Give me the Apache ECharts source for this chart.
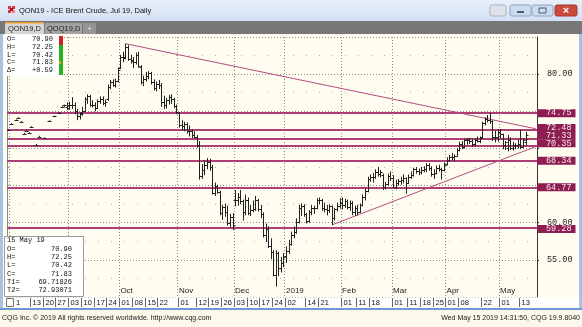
<!DOCTYPE html>
<html>
<head>
<meta charset="utf-8">
<script src="https://cdn.jsdelivr.net/npm/echarts@6/dist/echarts.min.js"></script>
<style>
  html, body { margin: 0; padding: 0; background: #fffcf0; }
  #chart { width: 582px; height: 327px; }
</style>
</head>
<body>
<div id="chart"></div>
<script>
// ---------------- DATA ----------------
// Trading days (day of month) per month
const daysJul18 = [31];
const daysAug18 = [1,2,3,6,7,8,9,10,13,14,15,16,17,20,21,22,23,24,27,28,29,30,31];
const daysSep18 = [3,4,5,6,7,10,11,12,13,14,17,18,19,20,21,24,25,26,27,28];
const daysOct18 = [1,2,3,4,5,8,9,10,11,12,15,16,17,18,19,22,23,24,25,26,29,30,31];
const daysNov18 = [1,2,5,6,7,8,9,12,13,14,15,16,19,20,21,22,23,26,27,28,29,30];
const daysDec18 = [3,4,5,6,7,10,11,12,13,14,17,18,19,20,21,24,26,27,28,31];
const daysJan19 = [2,3,4,7,8,9,10,11,14,15,16,17,18,21,22,23,24,25,28,29,30,31];
const daysFeb19 = [1,4,5,6,7,8,11,12,13,14,15,18,19,20,21,22,25,26,27,28];
const daysMar19 = [1,4,5,6,7,8,11,12,13,14,15,18,19,20,21,22,25,26,27,28,29];
const daysApr19 = [1,2,3,4,5,8,9,10,11,12,15,16,17,18,22,23,24,25,26,29,30];
const daysMay19 = [1,2,3,6,7,8,9,10,13,14,15,16,17,20,21];

// OHLC bars [open, high, low, close] per trading day (null = no trade)
const barsJul18 = [[72.5,72.6,72.4,72.5]];
const barsAug18 = [
  [73.3,73.4,73.2,73.3], null, [73.8,73.9,73.7,73.8], [74.1,74.2,74.0,74.1], [73.6,73.7,73.5,73.6],
  [72.0,72.1,71.9,72.0], [72.4,72.5,72.3,72.4], [72.1,72.2,72.0,72.1], [72.9,73.0,72.8,72.9], null,
  [70.5,70.6,70.4,70.5], [71.6,71.7,71.5,71.6], null, [71.4,71.5,71.3,71.4], null,
  [73.7,73.8,73.6,73.7], null, [74.3,74.4,74.2,74.3], null, [74.8,74.9,74.7,74.8],
  [75.6,75.7,75.5,75.6], [75.8,75.9,75.6,75.8], [75.6,76.2,75.2,75.9]
];
const barsSep18 = [
  [75.5,76.3,75.2,75.8], [75.8,76.9,75.3,75.9], [75.9,76.2,74.6,75.0], [75.0,75.3,73.8,74.3], [74.3,74.9,73.9,74.6],
  [74.8,75.6,74.4,75.1], [75.1,76.9,74.9,76.6], [76.6,77.3,76.0,77.0], [77.0,77.2,75.6,75.9], [75.9,76.5,75.5,75.8],
  [75.8,76.2,75.0,75.5], [75.5,76.6,75.3,76.4], [76.4,77.0,76.0,76.7], [76.7,77.0,75.8,76.1], [76.1,76.6,75.6,76.3],
  [76.6,78.6,76.4,78.3], [78.3,79.2,78.0,78.9], [78.9,79.3,78.3,78.6], [78.6,79.4,78.2,79.1], [79.1,80.9,78.9,80.6]
];
const barsOct18 = [
  [80.8,82.6,80.7,82.3], [82.3,83.0,81.6,82.2], [82.3,84.1,82.0,83.6], [83.6,83.9,81.8,82.1], [82.1,82.6,81.4,81.9],
  [81.8,82.3,80.8,81.6], [81.6,82.9,81.3,82.6], [82.6,83.0,80.9,81.1], [80.9,81.2,78.6,78.9], [78.9,79.8,78.4,79.3],
  [79.3,80.3,79.0,79.7], [79.7,80.4,79.3,80.2], [80.2,80.3,78.6,78.9], [78.9,79.3,77.8,78.2], [78.2,79.0,77.7,78.7],
  [78.7,79.2,78.0,78.6], [78.5,78.8,75.6,76.2], [76.2,77.1,75.3,75.8], [75.8,76.8,75.4,76.5], [76.5,77.2,75.9,76.9],
  [76.9,77.3,76.0,76.6], [76.6,76.8,75.4,75.7], [75.7,75.9,74.6,74.9]
];
const barsNov18 = [
  [74.8,74.9,72.8,73.2], [73.2,73.8,72.4,73.0], [73.0,73.6,72.3,73.3], [73.3,73.5,72.0,72.4], [72.4,73.1,71.6,72.3],
  [72.3,72.6,71.4,71.8], [71.8,72.3,71.3,71.6], [71.5,71.8,70.1,70.5], [70.5,71.0,65.8,66.3], [66.3,67.9,65.9,67.1],
  [67.1,68.4,66.4,67.8], [67.8,68.7,67.2,68.2], [68.2,68.6,67.0,67.5], [67.5,67.8,63.8,64.0], [64.0,65.4,63.6,64.9],
  [64.9,65.1,63.9,64.2], [64.1,64.3,61.0,61.3], [61.3,62.4,60.4,62.1], [62.1,62.6,60.8,61.4], [61.4,62.3,59.6,59.9],
  [59.9,61.2,59.4,60.8], [60.8,61.3,59.0,59.7]
];
const barsDec18 = [
  [63.0,64.4,62.2,63.0], [63.0,64.0,62.3,63.4], [63.4,64.4,62.5,62.9], [62.9,63.1,60.3,61.4], [61.4,63.8,61.0,63.0],
  [63.0,63.4,61.0,61.3], [61.3,62.4,60.9,61.7], [61.7,63.0,61.4,61.8], [61.8,63.6,61.6,63.0], [63.0,63.2,61.5,61.8],
  [61.8,62.4,60.6,61.2], [61.2,61.4,58.0,58.3], [58.3,59.9,57.4,59.2], [59.2,59.5,56.6,56.9], [56.9,57.9,55.1,56.0],
  [56.0,56.3,52.8,53.0], [53.0,56.3,51.4,55.9], [55.9,56.1,52.8,53.9], [53.9,55.4,53.3,54.6], [54.6,55.9,54.0,55.4]
];
const barsJan19 = [
  [55.5,56.8,54.6,56.2], [56.2,57.7,55.8,57.2], [57.2,58.8,56.9,58.4], [58.4,59.5,57.9,58.7], [58.7,60.6,58.5,60.1],
  [60.1,62.4,59.9,62.0], [62.0,62.6,60.9,62.3], [62.3,62.5,60.8,61.2], [61.2,61.3,59.9,60.2], [60.2,61.7,60.0,61.5],
  [61.5,62.4,61.0,62.0], [62.0,62.3,61.2,62.0], [62.0,63.3,61.8,63.0], [63.0,63.4,62.5,63.1], [63.1,63.2,61.6,62.0],
  [62.0,62.7,61.4,61.8], [61.8,62.4,61.0,61.7], [61.7,62.5,61.3,62.2], [62.2,62.3,59.7,60.6], [60.6,62.0,60.3,61.8],
  [61.8,62.7,61.5,62.3], [62.3,63.3,61.9,62.6]
];
const barsFeb19 = [
  [62.6,63.4,61.8,62.4], [62.4,63.2,62.0,62.9], [62.9,63.1,61.8,62.1], [62.1,63.0,61.6,62.7], [62.7,62.9,61.0,61.5],
  [61.5,62.3,60.9,62.0], [62.0,62.4,61.0,61.4], [61.4,62.6,61.3,62.4], [62.4,63.8,62.2,63.5], [63.5,64.6,63.0,64.3],
  [64.3,66.2,64.1,65.9], [65.9,66.5,65.5,66.2], [66.2,66.7,65.4,66.1], [66.1,67.2,65.9,66.8], [66.8,67.5,66.2,66.6],
  [66.6,67.1,66.1,66.8], [66.4,66.6,64.4,64.8], [64.8,65.5,64.5,65.2], [65.2,66.6,65.0,66.3], [66.3,66.9,65.6,66.0]
];
const barsMar19 = [
  [66.0,66.4,64.6,64.8], [64.8,65.8,64.5,65.4], [65.4,65.9,65.0,65.6], [65.6,66.2,65.1,65.7], [65.7,66.5,65.3,66.0],
  [66.0,66.1,63.9,65.4], [65.4,66.5,65.2,66.2], [66.2,66.9,65.9,66.4], [66.4,67.4,66.2,67.2], [67.2,67.5,66.6,66.9],
  [66.9,67.3,66.4,66.8], [66.8,67.5,66.5,67.1], [67.1,67.6,66.8,67.2], [67.2,68.0,66.8,67.8], [67.8,68.0,67.0,67.3],
  [67.3,67.6,66.2,66.5], [66.5,67.2,65.9,66.7], [66.7,67.7,66.5,67.4], [67.4,67.8,66.9,67.2], [67.2,67.4,65.8,67.1],
  [67.1,68.1,66.9,67.8]
];
const barsApr19 = [
  [67.9,68.8,67.7,68.5], [68.5,69.1,68.2,68.9], [68.9,69.4,68.4,68.8], [68.8,69.2,68.3,69.0], [69.0,70.0,68.9,69.8],
  [69.8,70.9,69.6,70.6], [70.6,71.0,69.9,70.2], [70.2,71.3,70.0,71.1], [71.1,71.4,70.5,71.2], [71.2,71.4,70.6,71.0],
  [71.0,71.2,70.2,70.6], [70.6,71.3,70.3,71.1], [71.1,71.6,70.8,71.0], [71.0,71.6,70.7,71.4], [71.5,73.6,71.4,73.4],
  [73.4,74.2,73.1,73.9], [73.9,74.5,73.5,73.8], [73.8,74.8,73.3,73.7], [73.7,73.8,71.0,71.6], [71.6,72.4,70.8,71.5],
  [71.5,72.6,70.9,72.2]
];
const barsMay19 = [
  [72.2,72.6,71.4,71.9], [71.9,72.0,69.9,70.5], [70.5,71.0,69.8,70.8], [70.0,71.8,69.6,71.2], [71.2,71.5,69.8,70.0],
  [70.0,70.9,69.7,70.4], [70.4,70.7,69.9,70.4], [70.4,71.2,70.0,70.6], [70.6,72.5,69.9,70.2], [70.2,71.4,70.1,71.2],
  [70.90,72.25,70.42,71.83]
];

// Support / resistance levels
const levels = [74.75, 72.48, 71.33, 70.35, 68.34, 64.77, 59.28];
// Trend lines: [date, value] anchor points (second anchor = T1/T2 study value on last bar)
const trendUpper = [['2018-10-03', 84.10], ['2019-05-15', 72.93071]];
const trendLower = [['2019-01-28', 59.70], ['2019-05-15', 69.71826]];

// Info panel values
const lastBar = { date: '15 May 19', O: '70.90', H: '72.25', L: '70.42', C: '71.83', chg: '+0.59', T1: '69.71826', T2: '72.93071' };
const monthNames = ['Jan','Feb','Mar','Apr','May','Jun','Jul','Aug','Sep','Oct','Nov','Dec'];
// Bottom date strip: labelled dates and their texts
const stripDates = ['2018-08-01','2018-08-13','2018-08-20','2018-08-27','2018-09-03','2018-09-10','2018-09-17','2018-09-24',
  '2018-10-01','2018-10-08','2018-10-15','2018-10-22','2018-11-01','2018-11-12','2018-11-19','2018-11-26',
  '2018-12-03','2018-12-10','2018-12-17','2018-12-24','2019-01-02','2019-01-14','2019-01-21','2019-02-01',
  '2019-02-11','2019-02-18','2019-03-01','2019-03-11','2019-03-18','2019-03-25','2019-04-01','2019-04-08',
  '2019-04-22','2019-05-01','2019-05-13'];
const stripLabels = ['1','13','20','27','03','10','17','24','01','08','15','22','01','12','19','26','03','10','17','24','02','14','21','01','11','18','01','11','18','25','01','08','22','01','13'];

// ---------------- BUILD ----------------
const monthDefs = [
  ['2018-07', daysJul18, barsJul18], ['2018-08', daysAug18, barsAug18], ['2018-09', daysSep18, barsSep18],
  ['2018-10', daysOct18, barsOct18], ['2018-11', daysNov18, barsNov18], ['2018-12', daysDec18, barsDec18],
  ['2019-01', daysJan19, barsJan19], ['2019-02', daysFeb19, barsFeb19], ['2019-03', daysMar19, barsMar19],
  ['2019-04', daysApr19, barsApr19], ['2019-05', daysMay19, barsMay19]
];
const dates = [];
const ohlc = [];
const monthStart = new Set();
monthDefs.forEach(([ym, days, bars]) => {
  days.forEach((d, k) => {
    const idx = dates.length;
    if (k === 0 && ym !== '2018-07') monthStart.add(idx);
    dates.push(ym + '-' + String(d).padStart(2, '0'));
    const b = bars[k];
    if (b) ohlc.push([idx, b[0], b[1], b[2], b[3]]);
  });
});
const lastIdx = dates.length - 1;
function extend(tr) {
  const i0 = dates.indexOf(tr[0][0]), i1 = dates.indexOf(tr[1][0]);
  const slope = (tr[1][1] - tr[0][1]) / (i1 - i0);
  return [[i0, tr[0][1]], [lastIdx, tr[0][1] + slope * (lastIdx - i0)]];
}

function renderOHLC(params, api) {
  const idx = api.value(0);
  const pO = api.coord([idx, api.value(1)]);
  const yH = api.coord([idx, api.value(2)])[1];
  const yL = api.coord([idx, api.value(3)])[1];
  const yC = api.coord([idx, api.value(4)])[1];
  const x = Math.round(pO[0]) + 0.5;
  const yO = Math.round(pO[1]) + 0.5;
  const yc = Math.round(yC) + 0.5;
  const style = { stroke: '#222', lineWidth: 1 };
  return {
    type: 'group',
    children: [
      { type: 'line', shape: { x1: x, y1: Math.min(yH, yL - 1), x2: x, y2: yL }, style },
      { type: 'line', shape: { x1: x - 2, y1: yO, x2: x, y2: yO }, style },
      { type: 'line', shape: { x1: x, y1: yc, x2: x + 2, y2: yc }, style }
    ]
  };
}

const MONO = "'Liberation Mono', 'DejaVu Sans Mono', monospace";
const SANS = "'Liberation Sans', Arial, sans-serif";
const levelShift = [0, -2, -3, -2.5, 0, 0, 1];
const hiddenAxisLabels = [65, 70, 75];

// ---------- chrome graphics ----------
const g = [];
g.push({ type: 'rect', shape: { x: 0, y: 0, width: 582, height: 21 }, style: { fill: new echarts.graphic.LinearGradient(0,0,0,1,[{offset:0,color:'#e8eff9'},{offset:1,color:'#d3e0f2'}]) }, z: 100 });
[[8,6,'#d8333a'],[12,6,'#d8333a'],[8,10,'#d8333a'],[12,10,'#f08080'],[10,8,'#b01020']].forEach(p => g.push({ type: 'rect', shape: { x: p[0], y: p[1], width: 3, height: 3 }, style: { fill: p[2] }, z: 101 }));
g.push({ type: 'text', x: 19, y: 11, style: { text: 'QON19 - ICE Brent Crude, Jul 19, Daily', font: '7.5px ' + SANS, fill: '#111', textVerticalAlign: 'middle' }, z: 101 });
g.push({ type: 'rect', shape: { x: 490, y: 5, width: 16, height: 11, r: 2 }, style: { fill: '#dfe3e8', stroke: '#a9b3bf' }, z: 101 });
g.push({ type: 'rect', shape: { x: 510, y: 5, width: 21, height: 11, r: 2 }, style: { fill: '#cddbee', stroke: '#8ea6c6' }, z: 101 });
g.push({ type: 'rect', shape: { x: 517, y: 11, width: 7, height: 2 }, style: { fill: '#4a5a70' }, z: 102 });
g.push({ type: 'rect', shape: { x: 532, y: 5, width: 21, height: 11, r: 2 }, style: { fill: '#cddbee', stroke: '#8ea6c6' }, z: 101 });
g.push({ type: 'rect', shape: { x: 539, y: 8, width: 7, height: 5 }, style: { fill: 'none', stroke: '#4a5a70' }, z: 102 });
g.push({ type: 'rect', shape: { x: 555, y: 5, width: 22, height: 11, r: 2 }, style: { fill: '#c9493a', stroke: '#9c3a2e' }, z: 101 });
g.push({ type: 'text', x: 566, y: 10.5, style: { text: '×', font: 'bold 11px ' + SANS, fill: '#fff', textAlign: 'center', textVerticalAlign: 'middle' }, z: 102 });
g.push({ type: 'rect', shape: { x: 0, y: 21, width: 582, height: 13 }, style: { fill: '#777777' }, z: 100 });
g.push({ type: 'rect', shape: { x: 5, y: 22, width: 39, height: 12 }, style: { fill: '#d6d6d6' }, z: 101 });
g.push({ type: 'rect', shape: { x: 5, y: 22, width: 39, height: 1.5 }, style: { fill: '#f0a030' }, z: 102 });
g.push({ type: 'text', x: 8, y: 28.5, style: { text: 'QON19,D', font: '7.5px ' + SANS, fill: '#222', textVerticalAlign: 'middle' }, z: 102 });
g.push({ type: 'rect', shape: { x: 45, y: 23, width: 37, height: 11 }, style: { fill: '#a4a4a4' }, z: 101 });
g.push({ type: 'text', x: 47, y: 28.5, style: { text: 'QOQ19,D', font: '7.5px ' + SANS, fill: '#222', textVerticalAlign: 'middle' }, z: 102 });
g.push({ type: 'rect', shape: { x: 83, y: 23, width: 13, height: 11 }, style: { fill: '#959595' }, z: 101 });
g.push({ type: 'text', x: 89.5, y: 28.5, style: { text: '+', font: '8px ' + SANS, fill: '#eee', textAlign: 'center', textVerticalAlign: 'middle' }, z: 102 });
g.push({ type: 'rect', shape: { x: 0, y: 34, width: 3, height: 276 }, style: { fill: '#a9c2e3' }, z: 100 });
g.push({ type: 'rect', shape: { x: 579, y: 34, width: 3, height: 276 }, style: { fill: '#a9c2e3' }, z: 100 });
g.push({ type: 'rect', shape: { x: 4, y: 297.5, width: 575, height: 10 }, style: { fill: '#ffffff' }, z: 100 });
g.push({ type: 'rect', shape: { x: 6.5, y: 298.5, width: 7, height: 8 }, style: { fill: '#fff', stroke: '#777' }, z: 101 });
g.push({ type: 'rect', shape: { x: 0, y: 308, width: 582, height: 2 }, style: { fill: '#6d98d3' }, z: 100 });
g.push({ type: 'rect', shape: { x: 0, y: 310, width: 582, height: 17 }, style: { fill: '#fcf8ea' }, z: 100 });
g.push({ type: 'text', x: 2, y: 318.5, style: { text: 'CQG Inc. © 2019 All rights reserved worldwide. http://www.cqg.com', font: '7px ' + SANS, fill: '#222', textVerticalAlign: 'middle' }, z: 101 });
g.push({ type: 'text', x: 580, y: 318.5, style: { text: 'Wed May 15 2019 14:31:50, CQG 19.9.8040', font: '7px ' + SANS, fill: '#222', textAlign: 'right', textVerticalAlign: 'middle' }, z: 101 });
g.push({ type: 'rect', shape: { x: 4, y: 35, width: 55, height: 41 }, style: { fill: '#ffffff' }, z: 100 });
const qRows = [['O=', lastBar.O], ['H=', lastBar.H], ['L=', lastBar.L], ['C=', lastBar.C], ['\u0394=', lastBar.chg]];
qRows.forEach((r, k) => {
  g.push({ type: 'text', x: 7, y: 39.5 + k * 7.7, style: { text: r[0], font: '7px ' + MONO, fill: '#111', textVerticalAlign: 'middle' }, z: 101 });
  g.push({ type: 'text', x: 53, y: 39.5 + k * 7.7, style: { text: r[1], font: '7px ' + MONO, fill: '#111', textAlign: 'right', textVerticalAlign: 'middle' }, z: 101 });
});
g.push({ type: 'rect', shape: { x: 59, y: 36, width: 4, height: 9 }, style: { fill: '#d42020' }, z: 101 });
g.push({ type: 'rect', shape: { x: 59, y: 45, width: 4, height: 30 }, style: { fill: '#22b31f' }, z: 101 });
g.push({ type: 'rect', shape: { x: 59, y: 61, width: 2, height: 3 }, style: { fill: '#f0a020' }, z: 102 });
g.push({ type: 'rect', shape: { x: 4.5, y: 236.5, width: 79, height: 60 }, style: { fill: '#ffffff', stroke: '#9a9a9a' }, z: 100 });
const iRows = [['O=', lastBar.O], ['H=', lastBar.H], ['L=', lastBar.L], ['C=', lastBar.C], ['T1=', lastBar.T1], ['T2=', lastBar.T2]];
g.push({ type: 'text', x: 7, y: 240.5, style: { text: lastBar.date, font: '7px ' + MONO, fill: '#111', textVerticalAlign: 'middle' }, z: 101 });
iRows.forEach((r, k) => {
  const y = 248.8 + k * 8.3;
  g.push({ type: 'text', x: 7, y: y, style: { text: r[0], font: '7px ' + MONO, fill: '#111', textVerticalAlign: 'middle' }, z: 101 });
  g.push({ type: 'text', x: 72, y: y, style: { text: r[1], font: '7px ' + MONO, fill: '#111', textAlign: 'right', textVerticalAlign: 'middle' }, z: 101 });
});

const chart = echarts.init(document.getElementById('chart'), null, { renderer: 'canvas' });
const option = {
  animation: false,
  backgroundColor: '#fffcf0',
  grid: { left: 7, right: 45, top: 37, bottom: 30 },
  xAxis: {
    type: 'category',
    data: dates,
    boundaryGap: true,
    axisLine: { show: false },
    axisTick: { show: false },
    axisLabel: {
      inside: true, margin: 2, interval: (i) => monthStart.has(i),
      formatter: (v) => { const m = +v.slice(5, 7); return m === 1 ? v.slice(0, 4) : monthNames[m - 1]; },
      align: 'left', color: '#222', fontSize: 8, fontFamily: SANS
    },
    splitLine: { show: true, interval: (i) => monthStart.has(i), lineStyle: { color: '#8c8c8c', type: [1, 2], width: 1 } }
  },
  yAxis: [{
    type: 'value', position: 'right', min: 50, max: 85, interval: 5,
    axisLine: { show: true, lineStyle: { color: '#333', width: 1 } },
    axisTick: { show: true, length: 2, lineStyle: { color: '#333' } },
    minorTick: { show: false, splitNumber: 2 },
    minorSplitLine: { show: true, lineStyle: { color: '#b0b0b0', type: [1, 12] } },
    axisLabel: { showMinLabel: false, showMaxLabel: false, margin: 10, color: '#222', fontSize: 8.5, fontFamily: MONO,
      formatter: (v) => hiddenAxisLabels.includes(v) ? '' : v.toFixed(2) },
    splitLine: { show: true, lineStyle: { color: '#8c8c8c', type: [1, 2], width: 1 } }
  }, {
    type: 'value', position: 'left', min: 50, max: 85, interval: 2.5,
    axisLine: { show: true, lineStyle: { color: '#8a8a8a', width: 1 } },
    axisTick: { show: true, inside: true, length: 2, lineStyle: { color: '#8a8a8a' } },
    axisLabel: { show: false }, splitLine: { show: false }
  }],
  graphic: { elements: g },
  series: [
    {
      type: 'custom', name: 'QON19', renderItem: renderOHLC, data: ohlc,
      encode: { x: 0, y: [1, 2, 3, 4] }, z: 5, clip: true
    },
    {
      type: 'line', name: 'Trend upper', data: extend(trendUpper), symbol: 'none', z: 4,
      lineStyle: { color: '#b44c82', width: 1 },
      markLine: {
        symbol: 'none', silent: true, z: 3,
        lineStyle: { color: '#ae3f74', width: 2, type: 'solid' },
        label: {
          position: 'end', distance: 0, formatter: (p) => p.value.toFixed(2),
          backgroundColor: '#8e1e52', color: '#f4e8ee', fontFamily: MONO, fontSize: 8.5, lineHeight: 8,
          padding: [0, 4, 0, 9]
        },
        data: levels.map((v, k) => ({ yAxis: v, label: { offset: [0, levelShift[k]] } }))
      }
    },
    {
      type: 'line', name: 'Trend lower', data: extend(trendLower), symbol: 'none', z: 4,
      lineStyle: { color: '#b44c82', width: 1 }
    }
  ]
};
chart.setOption(option);

// Bottom date strip labels positioned by the category axis
const stripEls = [];
const slot = Math.abs(chart.convertToPixel({ xAxisIndex: 0 }, dates[1]) - chart.convertToPixel({ xAxisIndex: 0 }, dates[0]));
stripDates.forEach((d, k) => {
  const cx = chart.convertToPixel({ xAxisIndex: 0 }, d);
  const sep = Math.round(cx - slot / 2) + 0.5;
  if (k === 0) {
    stripEls.push({ type: 'text', x: 16, y: 302.5, style: { text: stripLabels[k], font: '7.5px ' + SANS, fill: '#111', textVerticalAlign: 'middle' }, z: 101 });
    return;
  }
  stripEls.push({ type: 'line', shape: { x1: sep, y1: 298, x2: sep, y2: 307 }, style: { stroke: '#666', lineWidth: 1 }, z: 101 });
  stripEls.push({ type: 'text', x: sep + 2, y: 302.5, style: { text: stripLabels[k], font: '7.5px ' + SANS, fill: '#111', textVerticalAlign: 'middle' }, z: 101 });
});
chart.setOption({ graphic: { elements: g.concat(stripEls) } });
</script>
</body>
</html>
